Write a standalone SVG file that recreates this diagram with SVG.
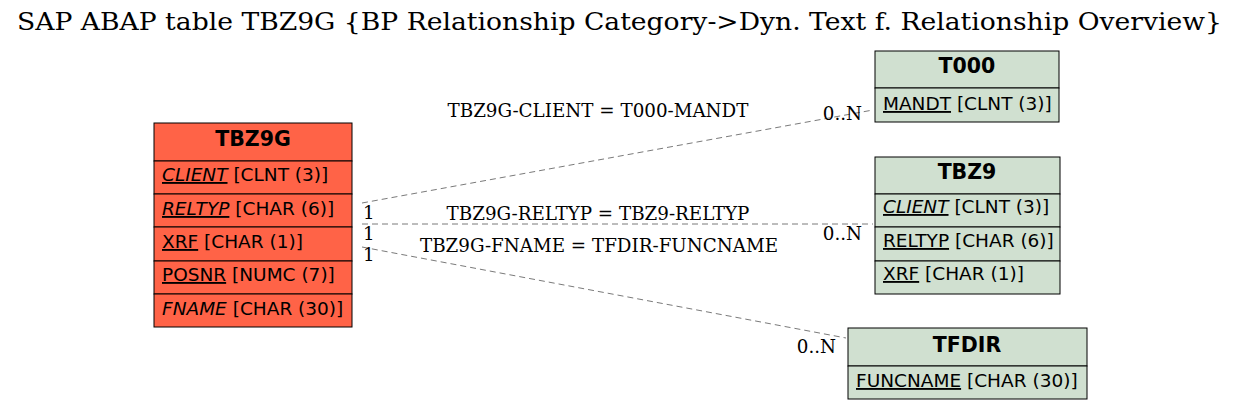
<svg xmlns="http://www.w3.org/2000/svg" width="1241" height="409" viewBox="0 0 1241 409">
<style>
.bg{fill:#ffffff}
.title{font-family:"DejaVu Serif",serif;font-size:24px;fill:#000}
.lbl{font-family:"DejaVu Serif",serif;font-size:18.3px;fill:#000}
.hdr{font-family:"DejaVu Sans",sans-serif;font-size:20.5px;font-weight:bold;fill:#000;text-anchor:middle}
.fld{font-family:"DejaVu Sans",sans-serif;font-size:18.5px;fill:#000}
.main{fill:#ff6347;stroke:#000;stroke-width:1}
.ref{fill:#d0e0d0;stroke:#000;stroke-width:1}
.edge{fill:none;stroke:#7a7a7a;stroke-width:1;stroke-dasharray:6,4}
.u{text-decoration:underline}
.i{font-style:italic}
</style>
<rect class="bg" x="0" y="0" width="1241" height="409"/>
<text class="title" x="17" y="30" textLength="1205" lengthAdjust="spacingAndGlyphs">SAP ABAP table TBZ9G {BP Relationship Category-&gt;Dyn. Text f. Relationship Overview}</text>

<g id="connectors">
  <path class="edge" d="M362,203 L873,110"/>
  <path class="edge" d="M362,224 L873,224"/>
  <path class="edge" d="M362,247 L846,338"/>
  <text class="lbl" x="598" y="117" text-anchor="middle">TBZ9G-CLIENT = T000-MANDT</text>
  <text class="lbl" x="598" y="220" text-anchor="middle">TBZ9G-RELTYP = TBZ9-RELTYP</text>
  <text class="lbl" x="599" y="252" text-anchor="middle">TBZ9G-FNAME = TFDIR-FUNCNAME</text>
  <text class="lbl" x="363" y="219">1</text>
  <text class="lbl" x="363" y="240">1</text>
  <text class="lbl" x="363" y="261">1</text>
  <text class="lbl" x="862" y="120" text-anchor="end">0..N</text>
  <text class="lbl" x="862" y="240" text-anchor="end">0..N</text>
  <text class="lbl" x="836" y="353" text-anchor="end">0..N</text>
</g>

<g id="TBZ9G">
  <rect class="main" x="154" y="123" width="198" height="38"/>
  <rect class="main" x="154" y="161" width="198" height="33"/>
  <rect class="main" x="154" y="194" width="198" height="33"/>
  <rect class="main" x="154" y="227" width="198" height="34"/>
  <rect class="main" x="154" y="261" width="198" height="33"/>
  <rect class="main" x="154" y="294" width="198" height="33"/>
  <text class="hdr" x="253" y="146">TBZ9G</text>
  <text class="fld" x="162" y="181"><tspan class="u i">CLIENT</tspan> [CLNT (3)]</text>
  <text class="fld" x="162" y="215"><tspan class="u i">RELTYP</tspan> [CHAR (6)]</text>
  <text class="fld" x="162" y="248"><tspan class="u">XRF</tspan> [CHAR (1)]</text>
  <text class="fld" x="162" y="281"><tspan class="u">POSNR</tspan> [NUMC (7)]</text>
  <text class="fld" x="162" y="315"><tspan class="i">FNAME</tspan> [CHAR (30)]</text>
</g>

<g id="T000">
  <rect class="ref" x="875" y="51" width="184" height="37"/>
  <rect class="ref" x="875" y="88" width="184" height="34"/>
  <text class="hdr" x="967" y="73">T000</text>
  <text class="fld" x="883" y="110"><tspan class="u">MANDT</tspan> [CLNT (3)]</text>
</g>

<g id="TBZ9">
  <rect class="ref" x="875" y="157" width="185" height="37"/>
  <rect class="ref" x="875" y="194" width="185" height="33"/>
  <rect class="ref" x="875" y="227" width="185" height="34"/>
  <rect class="ref" x="875" y="261" width="185" height="33"/>
  <text class="hdr" x="967" y="179">TBZ9</text>
  <text class="fld" x="883" y="213"><tspan class="u i">CLIENT</tspan> [CLNT (3)]</text>
  <text class="fld" x="883" y="247"><tspan class="u">RELTYP</tspan> [CHAR (6)]</text>
  <text class="fld" x="883" y="280"><tspan class="u">XRF</tspan> [CHAR (1)]</text>
</g>

<g id="TFDIR">
  <rect class="ref" x="848" y="328" width="239" height="38"/>
  <rect class="ref" x="848" y="366" width="239" height="33"/>
  <text class="hdr" x="967" y="352">TFDIR</text>
  <text class="fld" x="856" y="387"><tspan class="u">FUNCNAME</tspan> [CHAR (30)]</text>
</g>
</svg>
